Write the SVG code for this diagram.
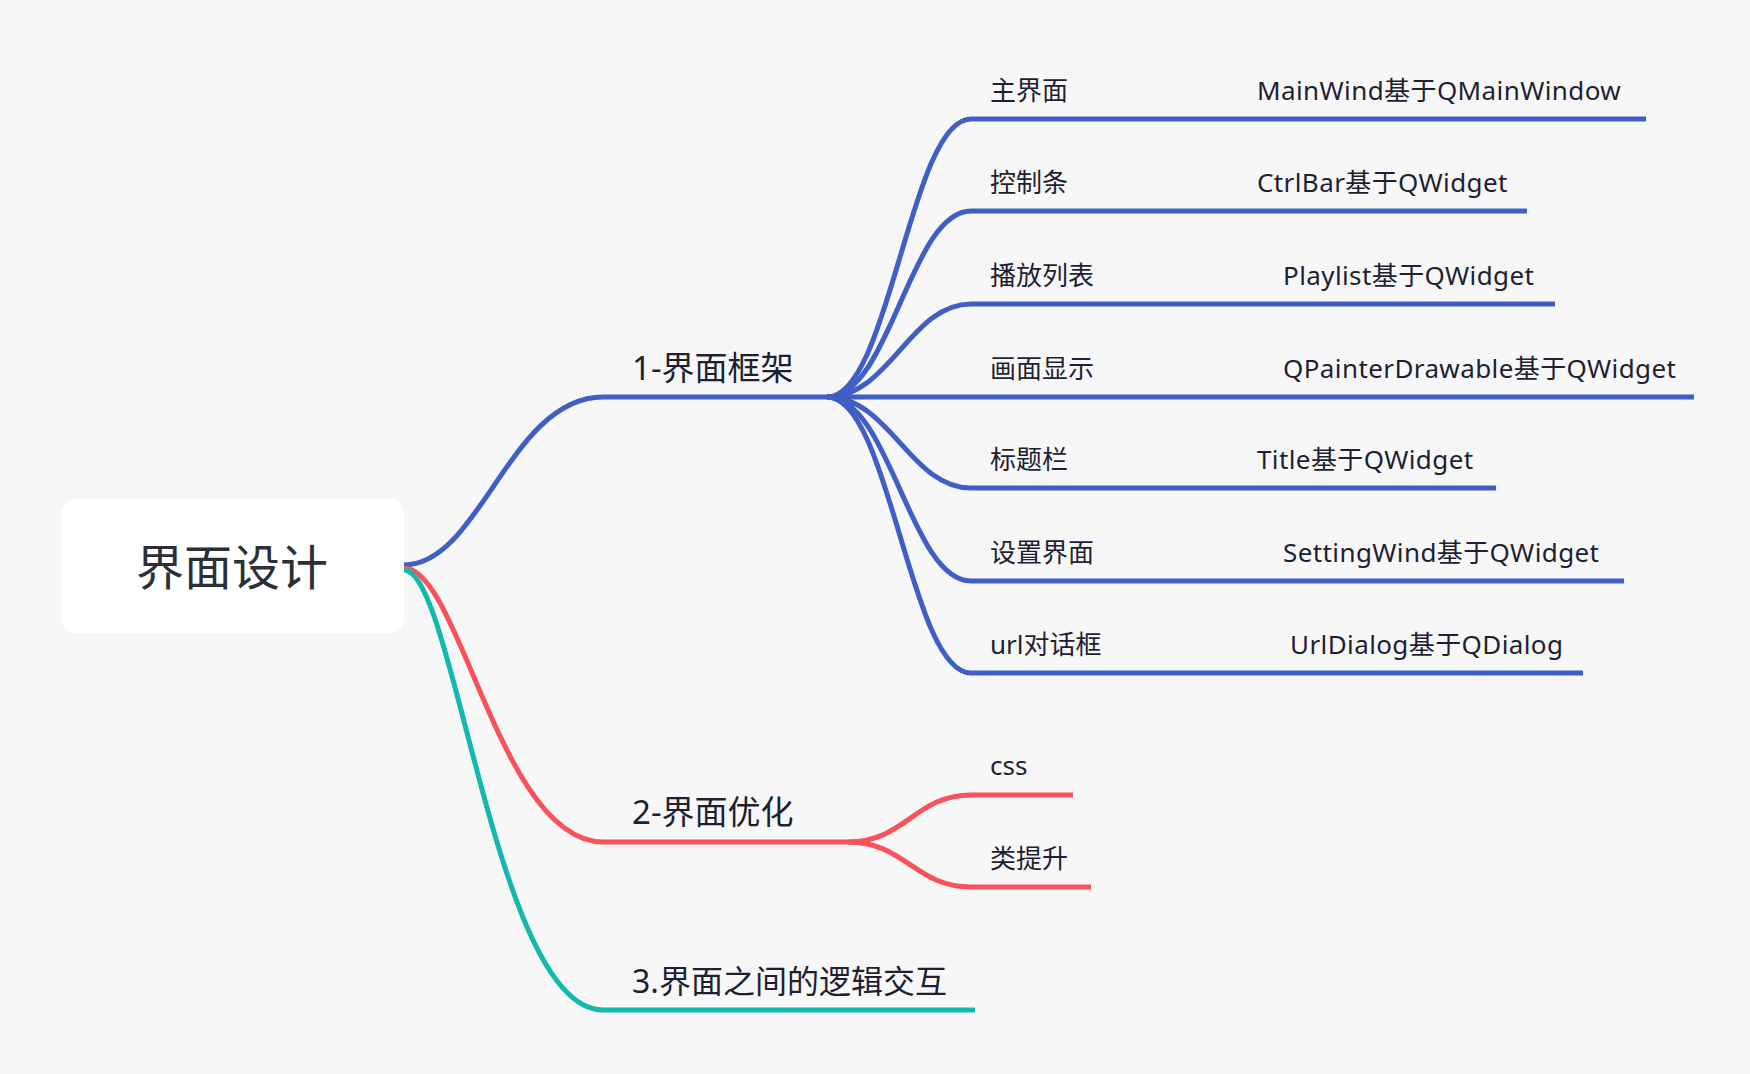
<svg xmlns="http://www.w3.org/2000/svg" width="1750" height="1074" viewBox="0 0 1750 1074">
  <style>
    .bg { fill: #f7f7f7; }
    .root-box { fill: #ffffff; }
    .root-text { font-family: "Noto Sans", "Noto Sans CJK SC", sans-serif; font-size: 48px; fill: #2b2f38; }
    .l1 { font-family: "Noto Sans", "Noto Sans CJK SC", sans-serif; font-size: 33px; fill: #1f1f33; }
    .l1s { font-size: 32px; }
    .l2 { font-family: "Noto Sans", "Noto Sans CJK SC", sans-serif; font-size: 26px; fill: #1f1f33; }
    .l3 { letter-spacing: 0.4px; }
    .edge { fill: none; stroke-width: 5; stroke-linecap: butt; }
    .blue { stroke: #3f5fc6; }
    .red { stroke: #f9525a; }
    .teal { stroke: #12b9ae; }
  </style>
  <rect class="bg" x="0" y="0" width="1750" height="1074"/>

  <g id="connectors">
    <path class="edge blue" d="M404,565 C480,565 510,397 603,397 H827"/>
    <path class="edge red" d="M404,568 C460,568 500,842 603,842 H848"/>
    <path class="edge teal" d="M404,570 C455,570 495,1010 603,1010 H975"/>

    <path class="edge blue" d="M827,397 C890,397 910,119 971,119 H1646"/>
    <path class="edge blue" d="M827,397 C890,397 910,211 971,211 H1527"/>
    <path class="edge blue" d="M827,397 C890,397 910,304 971,304 H1555"/>
    <path class="edge blue" d="M827,397 H1694"/>
    <path class="edge blue" d="M827,397 C890,397 910,488 971,488 H1496"/>
    <path class="edge blue" d="M827,397 C890,397 910,581 971,581 H1624"/>
    <path class="edge blue" d="M827,397 C890,397 910,673 971,673 H1583"/>

    <path class="edge red" d="M848,842 C905,842 915,795 971,795 H1073"/>
    <path class="edge red" d="M848,842 C905,842 915,887 971,887 H1091"/>
  </g>

  <g id="root">
    <rect class="root-box" x="61" y="499" width="343" height="134" rx="14"/>
    <text class="root-text" x="232" y="585" text-anchor="middle">界面设计</text>
  </g>

  <g id="b1"><text class="l1" x="632" y="380">1-界面框架</text></g>
  <g id="b2"><text class="l1" x="632" y="824">2-界面优化</text></g>
  <g id="b3"><text class="l1 l1s" x="632" y="993">3.界面之间的逻辑交互</text></g>

  <g id="c1"><text class="l2" x="990" y="100">主界面</text></g>
  <g id="c1a"><text class="l2 l3" x="1257" y="100">MainWind基于QMainWindow</text></g>
  <g id="c2"><text class="l2" x="990" y="192">控制条</text></g>
  <g id="c2a"><text class="l2 l3" x="1257" y="192">CtrlBar基于QWidget</text></g>
  <g id="c3"><text class="l2" x="990" y="285">播放列表</text></g>
  <g id="c3a"><text class="l2 l3" x="1283" y="285">Playlist基于QWidget</text></g>
  <g id="c4"><text class="l2" x="990" y="378">画面显示</text></g>
  <g id="c4a"><text class="l2 l3" x="1283" y="378">QPainterDrawable基于QWidget</text></g>
  <g id="c5"><text class="l2" x="990" y="469">标题栏</text></g>
  <g id="c5a"><text class="l2 l3" x="1257" y="469">Title基于QWidget</text></g>
  <g id="c6"><text class="l2" x="990" y="562">设置界面</text></g>
  <g id="c6a"><text class="l2 l3" x="1283" y="562">SettingWind基于QWidget</text></g>
  <g id="c7"><text class="l2" x="990" y="654">url对话框</text></g>
  <g id="c7a"><text class="l2 l3" x="1290" y="654">UrlDialog基于QDialog</text></g>

  <g id="d1"><text class="l2" x="990" y="775">css</text></g>
  <g id="d2"><text class="l2" x="990" y="868">类提升</text></g>
</svg>
